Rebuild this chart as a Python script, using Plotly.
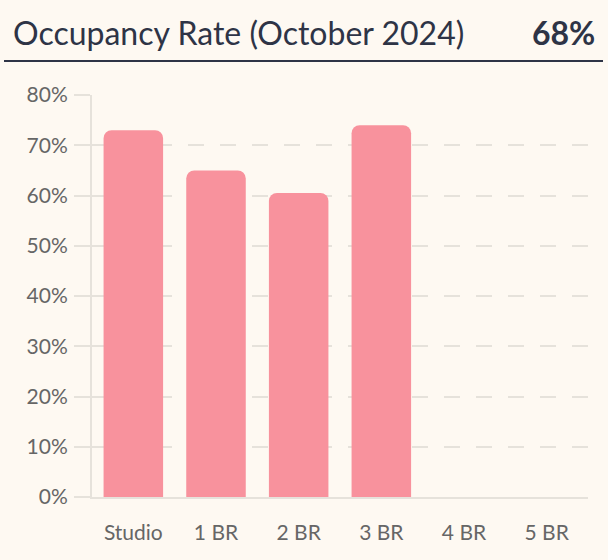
import plotly.graph_objects as go

categories = ["Studio", "1 BR", "2 BR", "3 BR", "4 BR", "5 BR"]
occupancy = [73.0, 65.0, 60.5, 74.0, 0, 0]
y_ticks = [0, 10, 20, 30, 40, 50, 60, 70, 80]
y_tick_labels = [f"{v}%" for v in y_ticks]
title_text = "Occupancy Rate (October 2024)"
overall_text = "68%"

BG = "#FEF9F2"
BAR = "#F8929D"
GRID = "#E6E2DB"
TEXT = "#2E3446"
TICK = "#666666"
FONT = "Lato, 'Noto Sans', sans-serif"

W, H = 608, 560
ML, MR, MT, MB = 92, 20, 95, 63
PW = W - ML - MR
PH = H - MT - MB

def px_x(p):
    return (p - ML) / PW

def px_y(q):
    return (H - MB - q) / PH

fig = go.Figure()
fig.add_trace(go.Bar(
    x=categories, y=occupancy, width=0.72,
    marker=dict(color=BAR, line=dict(width=0)),
    hoverinfo="skip",
))

fig.update_layout(
    width=W, height=H,
    margin=dict(l=ML, r=MR, t=MT, b=MB),
    paper_bgcolor=BG, plot_bgcolor=BG,
    barcornerradius=8,
    showlegend=False,
    font=dict(family=FONT, color=TICK, size=21),
    xaxis=dict(
        showgrid=False, ticks="", showline=True, linecolor=GRID, linewidth=2,
        tickfont=dict(size=21, color=TICK), ticklabelstandoff=16,
    ),
    yaxis=dict(
        range=[0, 80], tickvals=y_ticks, ticktext=y_tick_labels,
        showgrid=True, gridcolor=GRID, gridwidth=2, griddash="16px,16px",
        zeroline=False, showline=True, linecolor=GRID, linewidth=2,
        ticks="outside", ticklen=16, tickcolor=GRID, tickwidth=2,
        tickfont=dict(size=21, color=TICK), ticklabelstandoff=2,
    ),
    annotations=[
        dict(text=title_text, xref="paper", yref="paper", x=px_x(11), y=px_y(32),
             xanchor="left", yanchor="middle", showarrow=False,
             font=dict(family=FONT, size=32, color=TEXT)),
        dict(text="<b>" + overall_text + "</b>", xref="paper", yref="paper", x=px_x(597), y=px_y(32),
             xanchor="right", yanchor="middle", showarrow=False,
             font=dict(family=FONT, size=32, color=TEXT)),
    ],
    shapes=[
        dict(type="line", xref="paper", yref="paper", x0=px_x(4), x1=px_x(603),
             y0=px_y(61), y1=px_y(61), line=dict(color=TEXT, width=2)),
    ],
)

fig.write_html(
    "out.html",
    config={"displayModeBar": False},
    post_script="document.body.style.margin='0';document.body.style.padding='0';document.body.style.overflow='hidden';",
)
